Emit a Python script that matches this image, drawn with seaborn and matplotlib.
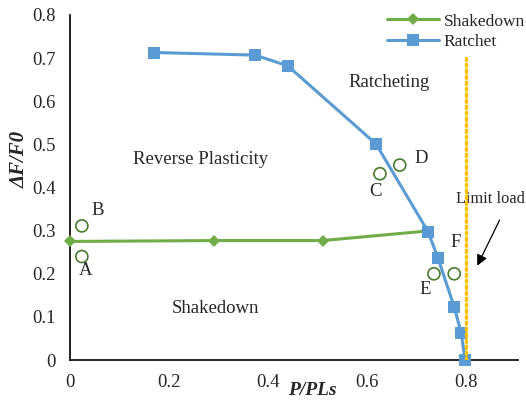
import matplotlib
matplotlib.use("Agg")
import matplotlib.pyplot as plt
import seaborn as sns
import pandas as pd

# Shakedown boundary (green diamonds)
shake_x = [0.0, 0.29, 0.51, 0.72]
shake_y = [0.275, 0.277, 0.277, 0.299]

# Ratchet boundary (blue squares)
ratchet_x = [0.17, 0.374, 0.44, 0.618, 0.723, 0.743, 0.776, 0.79, 0.798]
ratchet_y = [0.713, 0.707, 0.682, 0.501, 0.298, 0.237, 0.123, 0.063, 0.0]

# Tested load cases (open circles)
case_labels = ["A", "B", "C", "D", "E", "F"]
case_x = [0.024, 0.024, 0.626, 0.666, 0.735, 0.776]
case_y = [0.240, 0.311, 0.432, 0.452, 0.200, 0.200]

limit_load = 0.8
x_ticks = [0, 0.2, 0.4, 0.6, 0.8]
x_tick_labels = ["0", "0.2", "0.4", "0.6", "0.8"]
y_ticks = [0, 0.1, 0.2, 0.3, 0.4, 0.5, 0.6, 0.7, 0.8]
y_tick_labels = ["0", "0.1", "0.2", "0.3", "0.4", "0.5", "0.6", "0.7", "0.8"]

sns.set_style("white")
plt.rcParams["font.family"] = ["Liberation Serif", "DejaVu Serif"]

GREEN = "#70AD47"
BLUE = "#5B9BD5"
GOLD = "#FFC000"
CIRCLE = "#4A7A2E"
FS = 13.5

fig = plt.figure(figsize=(5.26, 4.05), dpi=100)
ax = fig.add_axes([0.133, 0.111, 0.852, 0.852])

shake_df = pd.DataFrame({"x": shake_x, "y": shake_y})
ratchet_df = pd.DataFrame({"x": ratchet_x, "y": ratchet_y})

sns.lineplot(data=shake_df, x="x", y="y", ax=ax, color=GREEN, lw=2.2,
             marker="D", markersize=6, markeredgewidth=0, sort=False,
             label="Shakedown", zorder=3, clip_on=False)
sns.lineplot(data=ratchet_df, x="x", y="y", ax=ax, color=BLUE, lw=2.2,
             marker="s", markersize=9, markeredgewidth=0, sort=False,
             label="Ratchet", zorder=4, clip_on=False)

# Tested cases
ax.scatter(case_x, case_y, s=75, facecolors="none", edgecolors=CIRCLE,
           linewidths=1.2, zorder=5, clip_on=False)
case_text_pos = {"A": (0.032, 0.207), "B": (0.056, 0.347), "C": (0.618, 0.39),
                 "D": (0.709, 0.468), "E": (0.718, 0.163), "F": (0.778, 0.273)}
for lab in case_labels:
    tx, ty = case_text_pos[lab]
    ax.text(tx, ty, lab, fontsize=FS, ha="center", va="center")

# Limit load line
ax.plot([limit_load, limit_load], [0, 0.7], color=GOLD, lw=2.4,
        linestyle=(0, (0.7, 1.1)), dash_capstyle="round", zorder=6)
ax.text(0.779, 0.374, "Limit load", fontsize=11.8, ha="left", va="center")
ax.annotate("", xy=(0.82, 0.213), xytext=(0.87, 0.33),
            arrowprops=dict(arrowstyle="-|>", color="black", lw=0.9,
                            mutation_scale=16))

# Region labels
ax.text(0.644, 0.643, "Ratcheting", fontsize=FS, ha="center", va="center")
ax.text(0.263, 0.465, "Reverse Plasticity", fontsize=FS, ha="center", va="center")
ax.text(0.294, 0.12, "Shakedown", fontsize=FS, ha="center", va="center")

ax.set_xlim(0, 0.905)
ax.set_ylim(0, 0.8)
ax.set_xticks(x_ticks)
ax.set_xticklabels(x_tick_labels)
ax.set_yticks(y_ticks)
ax.set_yticklabels(y_tick_labels)
ax.tick_params(axis="both", labelsize=FS, length=0)
ax.tick_params(axis="y", pad=10)
ax.tick_params(axis="x", pad=10)

for side in ["top", "right"]:
    ax.spines[side].set_visible(False)
for side in ["left", "bottom"]:
    ax.spines[side].set_color("black")
    ax.spines[side].set_linewidth(1.2)

ax.set_xlabel("P/PLs", fontsize=14, fontweight="bold", fontstyle="italic")
ax.set_ylabel("ΔF/F0", fontsize=15, fontweight="bold", fontstyle="italic")
ax.xaxis.set_label_coords(0.54, -0.065)
ax.yaxis.set_label_coords(-0.089, 0.58)

leg = ax.legend(loc="upper right", bbox_to_anchor=(1.05, 1.05), frameon=False,
                fontsize=12.5, handlelength=3.0, handletextpad=0.25,
                labelspacing=0.25)

fig.savefig("out.png", dpi=100)
